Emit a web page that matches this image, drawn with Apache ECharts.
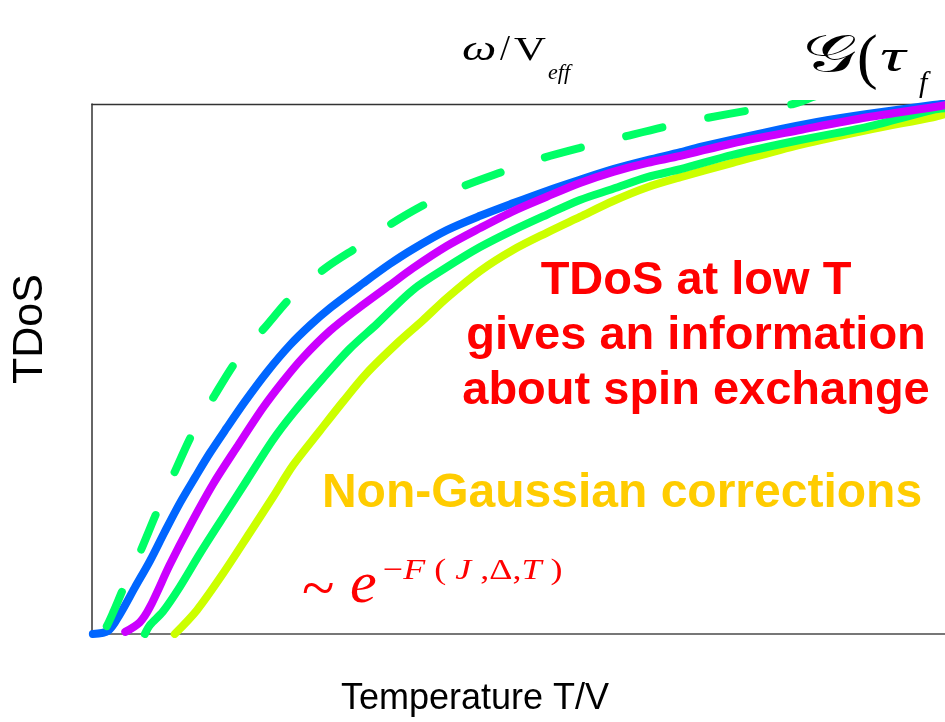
<!DOCTYPE html>
<html>
<head>
<meta charset="utf-8">
<script src="https://cdn.jsdelivr.net/npm/echarts/dist/echarts.min.js"></script>
<style>
  html, body { margin: 0; padding: 0; background: #ffffff; }
  #chart { width: 945px; height: 722px; }
</style>
</head>
<body>
<div id="chart"></div>
<script>
// Temperature T/V (normalised to the visible window) and TDoS for each curve
const blueT = [0.001, 0.019, 0.033, 0.050, 0.068, 0.085, 0.103, 0.121, 0.138, 0.158, 0.179, 0.205, 0.232, 0.256, 0.279, 0.318, 0.349, 0.376, 0.416, 0.455, 0.494, 0.533, 0.572, 0.611, 0.651, 0.690, 0.713, 0.791, 0.850, 0.909, 0.986, 1.0];
const blueD = [0, 0.006, 0.038, 0.087, 0.138, 0.192, 0.247, 0.296, 0.341, 0.389, 0.438, 0.494, 0.545, 0.583, 0.615, 0.662, 0.698, 0.726, 0.762, 0.789, 0.813, 0.836, 0.857, 0.877, 0.894, 0.909, 0.919, 0.947, 0.966, 0.981, 0.998, 1.001];

const magentaT = [0.039, 0.056, 0.068, 0.091, 0.115, 0.142, 0.170, 0.200, 0.224, 0.247, 0.279, 0.311, 0.349, 0.376, 0.416, 0.455, 0.494, 0.533, 0.572, 0.611, 0.651, 0.690, 0.751, 0.830, 0.909, 0.986, 1.0];
const magentaD = [0.004, 0.022, 0.051, 0.130, 0.205, 0.283, 0.353, 0.426, 0.477, 0.521, 0.572, 0.613, 0.658, 0.690, 0.732, 0.766, 0.798, 0.825, 0.851, 0.872, 0.889, 0.902, 0.926, 0.951, 0.975, 0.994, 0.998];

const greenT = [0.062, 0.068, 0.083, 0.103, 0.127, 0.154, 0.182, 0.212, 0.236, 0.271, 0.302, 0.334, 0.376, 0.416, 0.455, 0.494, 0.533, 0.572, 0.611, 0.651, 0.690, 0.751, 0.830, 0.909, 0.986, 1.0];
const greenD = [0, 0.017, 0.042, 0.089, 0.153, 0.221, 0.291, 0.366, 0.417, 0.483, 0.538, 0.585, 0.649, 0.692, 0.730, 0.762, 0.791, 0.819, 0.840, 0.862, 0.877, 0.904, 0.932, 0.957, 0.989, 0.992];

const limeT = [0.097, 0.123, 0.154, 0.185, 0.212, 0.236, 0.267, 0.294, 0.322, 0.358, 0.388, 0.416, 0.455, 0.494, 0.533, 0.572, 0.611, 0.651, 0.690, 0.751, 0.830, 0.909, 0.986, 1.0];
const limeD = [0, 0.045, 0.115, 0.191, 0.258, 0.319, 0.383, 0.438, 0.492, 0.549, 0.592, 0.634, 0.685, 0.725, 0.757, 0.787, 0.817, 0.843, 0.862, 0.889, 0.923, 0.951, 0.975, 0.981];

// Gaussian approximation (dashed)
const gaussT = [0.009, 0.015, 0.026, 0.036, 0.056, 0.076, 0.097, 0.118, 0.144, 0.170, 0.203, 0.236, 0.275, 0.317, 0.343, 0.385, 0.431, 0.481, 0.528, 0.576, 0.623, 0.674, 0.722, 0.774, 0.822, 0.853, 0.912, 1.0];
const gaussD = [0, 0.008, 0.045, 0.083, 0.153, 0.230, 0.306, 0.379, 0.451, 0.517, 0.579, 0.640, 0.692, 0.736, 0.766, 0.806, 0.842, 0.872, 0.898, 0.919, 0.938, 0.958, 0.974, 0.989, 1.0, 1.017, 1.032, 1.050];

const pairs = (xs, ys) => xs.map((x, i) => [x, ys[i]]);

const chart = echarts.init(document.getElementById('chart'), null, { renderer: 'canvas' });

const hidden = { axisTick: { show: false }, axisLabel: { show: false }, splitLine: { show: false } };

function curve(name, xs, ys, color, dashed) {
  return {
    name: name,
    type: 'line',
    data: pairs(xs, ys),
    symbol: 'none',
    smooth: 0.3,
    clip: true,
    silent: true,
    lineStyle: {
      color: color,
      width: 8,
      cap: 'round',
      join: 'round',
      type: dashed ? [37, 47] : 'solid',
      dashOffset: dashed ? 73 : 0
    }
  };
}

const serif = '"Liberation Serif", "DejaVu Serif", serif';
const sans = '"Liberation Sans", Arial, sans-serif';

function txt(x, y, text, font, fill, align, extra) {
  return Object.assign({
    type: 'text', x: x, y: y, silent: true,
    style: { text: text, font: font, fill: fill, textAlign: align || 'left', textVerticalAlign: 'middle' }
  }, extra || {});
}

chart.setOption({
  animation: false,
  backgroundColor: '#ffffff',
  grid: { left: 92, top: 104, width: 853, height: 530, containLabel: false },
  xAxis: [
    Object.assign({ type: 'value', min: 0, max: 1, position: 'bottom',
      axisLine: { show: true, onZero: false, lineStyle: { color: '#777777', width: 2 } } }, hidden),
    Object.assign({ type: 'value', min: 0, max: 1, position: 'top',
      axisLine: { show: true, onZero: false, lineStyle: { color: '#333333', width: 1.3 } } }, hidden)
  ],
  yAxis: [
    Object.assign({ type: 'value', min: 0, max: 1, position: 'left',
      axisLine: { show: true, onZero: false, lineStyle: { color: '#333333', width: 1.5 } } }, hidden)
  ],
  series: [
    curve('lime', limeT, limeD, '#ccff00', false),
    curve('green', greenT, greenD, '#00ff66', false),
    curve('blue', blueT, blueD, '#0066ff', false),
    curve('magenta', magentaT, magentaD, '#cc00ff', false),
    curve('gauss', gaussT, gaussD, '#00ff66', true)
  ],
  graphic: [
    // axis titles
    txt(475, 699, 'Temperature T/V', '36px ' + sans, '#000000', 'center'),
    txt(30, 329, 'TDoS', '43px ' + sans, '#000000', 'center', { rotation: Math.PI / 2 }),
    // frequency label on top
    txt(462, 51, 'ω', 'italic 36px ' + serif, '#000', 'left', { scaleX: 1.35 }),
    txt(500, 51, '/', '36px ' + serif, '#000', 'left'),
    txt(514, 51, 'V', '34px ' + serif, '#000', 'left', { scaleX: 1.3 }),
    txt(548, 73, 'eff', 'italic 22px ' + serif, '#000', 'left'),
    txt(803, 57, '𝒢', '52px ' + serif, '#000', 'left', { scaleX: 1.45 }),
    txt(857, 61, '(', '62px ' + serif, '#000', 'left'),
    txt(880, 59, 'τ', 'italic 46px ' + serif, '#000', 'left', { scaleX: 1.55 }),
    txt(919, 84, 'f', 'italic 30px ' + serif, '#000', 'left'),
    // annotations
    txt(696, 281, 'TDoS at low T', 'bold 47px ' + sans, '#ff0000', 'center'),
    txt(696, 336, 'gives an information', 'bold 47px ' + sans, '#ff0000', 'center'),
    txt(696, 391, 'about spin exchange', 'bold 47px ' + sans, '#ff0000', 'center'),
    txt(622, 494, 'Non-Gaussian corrections', 'bold 48px ' + sans, '#ffcc00', 'center'),
    txt(302, 592, '~', '60px ' + serif, '#ff0000', 'left'),
    txt(350, 586, 'e', 'italic 60px ' + serif, '#ff0000', 'left'),
    {
      type: 'text', x: 383, y: 571, silent: true, scaleX: 1.2,
      style: {
        text: '{u|−}{i|F}{u| ( }{i|J}{u| ,Δ,}{i|T}{u| )}',
        textAlign: 'left', textVerticalAlign: 'middle',
        rich: {
          u: { font: '30px ' + serif, fill: '#ff0000' },
          i: { font: 'italic 30px ' + serif, fill: '#ff0000' }
        }
      }
    }
  ]
});
</script>
</body>
</html>
